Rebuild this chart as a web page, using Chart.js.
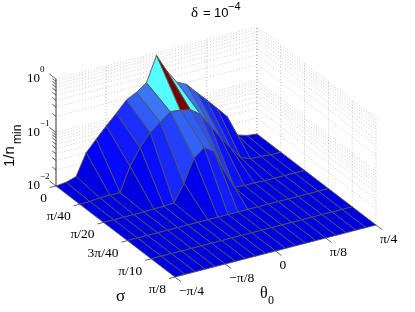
<!DOCTYPE html>
<html>
<head>
<meta charset="utf-8">
<style>
  body { margin: 0; background: #fff; }
  canvas { display: block; }
</style>
<script src="https://cdn.jsdelivr.net/npm/chart.js@4"></script>
</head>
<body>
<canvas id="surface-chart" width="415" height="312"></canvas>
<script>
// sigma and theta are kept in steps of pi/40
const sigmaSteps = [0, 1, 2, 3, 4, 5];
const thetaSteps = [-10, -9, -8, -7, -6, -5, -4, -3, -2, -1, 0, 1, 2, 3, 4, 5, 6, 7, 8, 9, 10];

// 1/n_min, one row per sigma
const row0 = [0.01, 0.0105, 0.012, 0.03, 0.048, 0.076, 0.117, 0.185, 0.23, 0.31, 0.9, 0.42, 0.23, 0.185, 0.117, 0.076, 0.048, 0.03, 0.012, 0.0105, 0.01];
const row1 = [0.01, 0.01, 0.0105, 0.0105, 0.0105, 0.029, 0.058, 0.1, 0.14, 0.195, 0.187, 0.17, 0.125, 0.068, 0.037, 0.021, 0.0125, 0.0105, 0.0105, 0.01, 0.01];
const row2 = [0.01, 0.01, 0.01, 0.01, 0.01, 0.0102, 0.0102, 0.0105, 0.022, 0.058, 0.082, 0.062, 0.024, 0.0105, 0.0102, 0.0102, 0.01, 0.01, 0.01, 0.01, 0.01];
const row3 = [0.01, 0.01, 0.01, 0.01, 0.01, 0.01, 0.01, 0.01, 0.01, 0.01, 0.01, 0.01, 0.01, 0.01, 0.01, 0.01, 0.01, 0.01, 0.01, 0.01, 0.01];
const row4 = [0.01, 0.01, 0.01, 0.01, 0.01, 0.01, 0.01, 0.01, 0.01, 0.01, 0.01, 0.01, 0.01, 0.01, 0.01, 0.01, 0.01, 0.01, 0.01, 0.01, 0.01];
const row5 = [0.01, 0.01, 0.01, 0.01, 0.01, 0.01, 0.01, 0.01, 0.01, 0.01, 0.01, 0.01, 0.01, 0.01, 0.01, 0.01, 0.01, 0.01, 0.01, 0.01, 0.01];
const rows = [row0, row1, row2, row3, row4, row5];

// axis ticks
const sigmaTickLabels = ['0', 'π/40', 'π/20', '3π/40', 'π/10', 'π/8'];
const thetaTickSteps = [-10, -5, 0, 5, 10];
const thetaTickLabels = ['−π/4', '−π/8', '0', 'π/8', 'π/4'];
const zDecades = [0.01, 0.1, 1];
const zExponents = ['−2', '−1', '0'];
const zMinor = [2, 3, 4, 5, 6, 7, 8, 9];

// colour of a facet by its first vertex
const colorStops = [
  [0.01, [0, 0, 222]],
  [0.03, [0, 0, 245]],
  [0.06, [10, 15, 255]],
  [0.12, [28, 50, 255]],
  [0.19, [48, 95, 250]],
  [0.24, [62, 125, 240]],
  [0.3, [85, 255, 255]],
  [0.45, [85, 255, 255]],
  [0.89, [120, 0, 0]]
];

function facetColor(z) {
  for (let k = 1; k < colorStops.length; k++) {
    if (z <= colorStops[k][0]) {
      const [z0, c0] = colorStops[k - 1];
      const [z1, c1] = colorStops[k];
      const f = (z - z0) / (z1 - z0);
      return `rgb(${c0.map((c, n) => Math.round(c + (c1[n] - c) * f)).join(',')})`;
    }
  }
  return 'rgb(120,0,0)';
}

// fixed 3d view of the box
function project(s, t, z) {
  return {
    x: 56 + 23.8 * s + 10.05 * (t + 10),
    y: 186 + 18.2 * s - 2.6 * (t + 10) - 53.5 * (Math.log10(z) + 2)
  };
}

function lineSet(points, color, width, dash) {
  return {
    data: points,
    showLine: true,
    fill: false,
    borderColor: color,
    borderWidth: width,
    borderDash: dash || [],
    pointRadius: 0,
    tension: 0
  };
}

let datasets = [];

// walls
const gridColor = 'rgba(100,100,100,0.5)';
const gridDash = [1, 2];
const zLines = [];
zDecades.forEach((d, n) => {
  zLines.push(d);
  if (n < 2) zMinor.forEach(m => zLines.push(d * m));
});
zLines.forEach(z => {
  datasets.push(lineSet([project(0, -10, z), project(0, 10, z), project(5, 10, z)], gridColor, 0.7, gridDash));
});
thetaTickSteps.forEach(t => {
  datasets.push(lineSet([project(0, t, 0.01), project(0, t, 1)], gridColor, 0.7, gridDash));
});
sigmaSteps.forEach(s => {
  datasets.push(lineSet([project(s, 10, 0.01), project(s, 10, 1)], gridColor, 0.7, gridDash));
});

// axes and ticks
const axisColor = 'rgb(60,60,60)';
datasets.push(lineSet([project(0, -10, 0.01), project(0, -10, 1)], axisColor, 1));
zLines.forEach(z => {
  const len = zDecades.includes(z) ? 0.28 : 0.16;
  datasets.push(lineSet([project(0, -10, z), project(-len, -10, z)], axisColor, 0.8));
});
sigmaSteps.forEach(s => {
  datasets.push(lineSet([project(s, -10, 0.01), project(s, -10.6, 0.01)], axisColor, 0.8));
});
thetaTickSteps.forEach(t => {
  datasets.push(lineSet([project(5, t, 0.01), project(5.25, t, 0.01)], axisColor, 0.8));
});

// surface, back to front
for (let i = 0; i < rows.length - 1; i++) {
  for (let j = thetaSteps.length - 2; j >= 0; j--) {
    const s0 = sigmaSteps[i], s1 = sigmaSteps[i + 1];
    const t0 = thetaSteps[j], t1 = thetaSteps[j + 1];
    const facet = lineSet([
      project(s0, t0, rows[i][j]),
      project(s0, t1, rows[i][j + 1]),
      project(s1, t1, rows[i + 1][j + 1]),
      project(s1, t0, rows[i + 1][j]),
      project(s0, t0, rows[i][j])
    ], 'rgb(80,80,86)', 0.9);
    facet.facetFill = facetColor(rows[i][j]);
    datasets.push(facet);
  }
}

// later datasets go on top
datasets.forEach((d, n) => { d.order = datasets.length - n; });

// scatter lines do not close, so fill the facet before its outline is drawn
const facetFillPlugin = {
  id: 'facetFill',
  beforeDatasetDraw(chart, args) {
    const fillColor = chart.data.datasets[args.index].facetFill;
    if (!fillColor) return;
    const pts = args.meta.data;
    const ctx = chart.ctx;
    ctx.save();
    ctx.beginPath();
    pts.forEach((p, n) => { n ? ctx.lineTo(p.x, p.y) : ctx.moveTo(p.x, p.y); });
    ctx.closePath();
    ctx.fillStyle = fillColor;
    ctx.fill();
    ctx.restore();
  }
};

const serif = '"Liberation Serif"';
const sans = '"Liberation Sans"';

const textPlugin = {
  id: 'boxText',
  afterDraw(chart) {
    const ctx = chart.ctx;
    const xs = chart.scales.x, ys = chart.scales.y;
    const put = (text, x, y, font, align) => {
      ctx.font = font;
      ctx.textAlign = align || 'left';
      ctx.textBaseline = 'alphabetic';
      ctx.fillText(text, x, y);
    };
    const at = (s, t, z) => {
      const p = project(s, t, z);
      return { x: xs.getPixelForValue(p.x), y: ys.getPixelForValue(p.y) };
    };
    ctx.save();
    ctx.fillStyle = '#000';

    // title
    put('δ', 191, 17, `15px ${serif}`);
    put('=', 203, 17, `13px ${sans}`);
    put('10', 214, 17, `13px ${sans}`);
    put('−4', 228, 10, `11px ${sans}`);

    // z ticks
    zDecades.forEach((d, n) => {
      const p = at(0, -10, d);
      put('10', p.x - 16, p.y + 3, `13px ${serif}`, 'right');
      put(zExponents[n], p.x - 16, p.y - 7, `9px ${serif}`);
    });

    // sigma and theta ticks
    sigmaSteps.forEach((s, n) => {
      const p = at(s, -10, 0.01);
      put(sigmaTickLabels[n], p.x - 9, p.y + 16, `13.5px ${serif}`, 'right');
    });
    thetaTickSteps.forEach((t, n) => {
      const p = at(5, t, 0.01);
      put(thetaTickLabels[n], p.x + 4, p.y + 18, `13.5px ${serif}`);
    });

    // axis names
    put('σ', 116, 301, `17px ${serif}`);
    put('θ', 260, 298, `16px ${serif}`);
    put('0', 268, 304, `12px ${serif}`);

    ctx.translate(14, 167);
    ctx.rotate(-Math.PI / 2);
    put('1/n', 0, 0, `15px ${sans}`);
    put('min', 23, 7, `12px ${sans}`);
    ctx.restore();
  }
};

const surfaceChart = new Chart(document.getElementById('surface-chart'), {
  type: 'scatter',
  data: { datasets: datasets },
  options: {
    responsive: false,
    animation: false,
    layout: { padding: 0 },
    scales: {
      x: { type: 'linear', display: false, min: 0, max: 415 },
      y: { type: 'linear', display: false, min: 0, max: 312, reverse: true }
    },
    plugins: {
      legend: { display: false },
      tooltip: { enabled: false }
    }
  },
  plugins: [facetFillPlugin, textPlugin]
});
</script>
</body>
</html>
